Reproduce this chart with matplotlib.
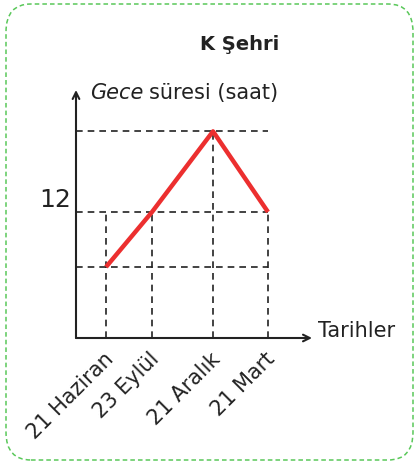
import matplotlib.pyplot as plt
from matplotlib.patches import FancyBboxPatch

# night length per date (hours)
dates = ["21 Haziran", "23 Eylül", "21 Aralık", "21 Mart"]
x_pos = [30, 76, 137, 192]
night_hours = [9.0, 12.0, 16.4, 12.0]
y_ticks = [12]

fig = plt.figure(figsize=(4.17, 4.65), dpi=100)

# rounded dashed frame
frame = FancyBboxPatch((6 / 417, 5 / 465), 407 / 417, 456 / 465,
                       boxstyle="round,pad=0,rounding_size=0.06",
                       transform=fig.transFigure, fill=False,
                       edgecolor="#5ac85a", linewidth=1.1, linestyle=(0, (3, 2)))
fig.patches.append(frame)

ax = fig.add_axes([76 / 417, (465 - 338) / 465, 236 / 417, 248 / 465])
ax.set_xlim(0, 236)
ax.set_ylim(12 - 126 / 18.33, 12 + 122 / 18.33)
for s in ax.spines.values():
    s.set_visible(False)
ax.set_xticks([])
ax.set_yticks([])

# axes with arrow heads
ax.annotate("", xy=(1, 0), xytext=(0, 0), xycoords="axes fraction",
            arrowprops=dict(arrowstyle="->", color="#222222", lw=1.5,
                            mutation_scale=12, shrinkA=0, shrinkB=0))
ax.annotate("", xy=(0, 1), xytext=(0, 0), xycoords="axes fraction",
            arrowprops=dict(arrowstyle="->", color="#222222", lw=1.5,
                            mutation_scale=12, shrinkA=0, shrinkB=0))

# dashed guide lines
dash = dict(color="#222222", lw=1.2, linestyle=(0, (4, 3)))
x_right = x_pos[-1]
ymin = ax.get_ylim()[0]
levels = sorted(set(night_hours))
for lv in levels:
    ax.plot([0, x_right], [lv, lv], **dash)
for xp, v in zip(x_pos, night_hours):
    top = max(v, 12.0)
    ax.plot([xp, xp], [ymin, top], **dash)

ax.plot(x_pos, night_hours, color="#ec2f2f", lw=3.2, solid_capstyle="butt", zorder=5)

font = "DejaVu Sans"
ink = "#222222"
for yt in y_ticks:
    ax.text(-5, yt, str(yt), ha="right", va="bottom", fontsize=18, family=font,
            color=ink)

for xp, d in zip(x_pos, dates):
    ax.text(xp + 4, ymin - 1.0, d, rotation=45, rotation_mode="anchor",
            ha="right", va="center", fontsize=15, family=font, color=ink)

fig.text(318 / 417, 1 - 331 / 465, "Tarihler", ha="left", va="center",
         fontsize=15, family=font, color=ink)
fig.text(90 / 417, 1 - 93 / 465, "Gece", ha="left", va="center", fontsize=15,
         family=font, style="italic", color=ink)
fig.text(149 / 417, 1 - 93 / 465, "süresi (saat)", ha="left", va="center",
         fontsize=15, family=font, color=ink)
fig.text(240 / 417, 1 - 45 / 465, "K Şehri", ha="center", va="center",
         fontsize=14, family=font, fontweight="bold", color=ink)

fig.savefig("out.png", dpi=100)
